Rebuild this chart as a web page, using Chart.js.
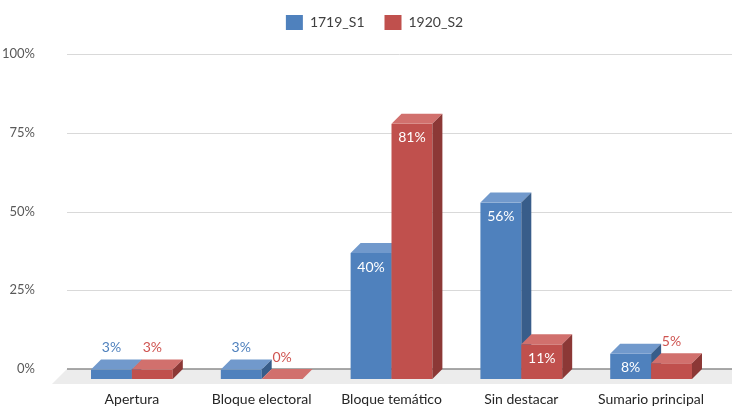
<!DOCTYPE html>
<html>
<head>
<meta charset="utf-8">
<script src="https://cdn.jsdelivr.net/npm/chart.js@4/dist/chart.umd.min.js"></script>
<style>
  html, body { margin: 0; padding: 0; background: #fff; }
</style>
</head>
<body>
<canvas id="chart" width="732" height="406"></canvas>
<script>
// data
const categories = ['Apertura', 'Bloque electoral', 'Bloque temático', 'Sin destacar', 'Sumario principal'];
const seriesNames = ['1719_S1', '1920_S2'];
const s1Values = [3, 3, 40, 56, 8];
const s2Values = [3, 0, 81, 11, 5];
const yTickValues = [0, 25, 50, 75, 100];

const FONT = 'Lato, "Open Sans", sans-serif';
const DX = 10, DY = 10;   // depth offset of the bars
const FLOOR = 15;         // depth of the floor

const palettes = [
  { front: '#4f81bd', top: '#7199cc', side: '#385d8a', label: '#4f81bd' },
  { front: '#c0504d', top: '#d1706d', side: '#8c3836', label: '#cf5451' }
];

// push the plot down below the legend, and nudge the legend right
const legendGap = {
  id: 'legendGap',
  beforeInit(chart) {
    const legend = chart.legend;
    const fit = legend.fit;
    legend.fit = function () {
      fit.call(this);
      this.height = 59;
    };
    const draw = legend.draw;
    legend.draw = function () {
      this.ctx.save();
      this.ctx.translate(16.5, 0);
      draw.call(this);
      this.ctx.restore();
    };
  }
};

const bars3d = {
  id: 'bars3d',
  beforeDatasetsDraw(chart) {
    const ctx = chart.ctx;
    const area = chart.chartArea;
    const y = chart.scales.y;
    const zero = y.getPixelForValue(0);
    ctx.save();
    // gridlines on the back wall, running to the right edge
    ctx.strokeStyle = '#d9d9d9';
    ctx.lineWidth = 1;
    y.ticks.forEach(t => {
      if (t.value === 0) return;
      const py = Math.round(y.getPixelForValue(t.value)) + 0.5;
      ctx.beginPath();
      ctx.moveTo(area.left, py);
      ctx.lineTo(chart.width, py);
      ctx.stroke();
    });
    // floor
    ctx.fillStyle = '#ececec';
    ctx.beginPath();
    ctx.moveTo(area.left, zero);
    ctx.lineTo(chart.width + 20, zero);
    ctx.lineTo(chart.width + 20 - FLOOR, zero + FLOOR);
    ctx.lineTo(area.left - FLOOR, zero + FLOOR);
    ctx.closePath();
    ctx.fill();
    ctx.strokeStyle = '#8c8c8c';
    ctx.lineWidth = 1.5;
    ctx.beginPath();
    ctx.moveTo(area.left, zero);
    ctx.lineTo(chart.width, zero);
    ctx.stroke();

    const metas = chart.data.datasets.map((d, i) => chart.getDatasetMeta(i));
    categories.forEach((c, i) => {
      metas.forEach((meta, d) => {
        const el = meta.data[i];
        const p = palettes[d];
        const w = el.width;
        const l = el.x - w / 2, r = el.x + w / 2;
        const top = el.y, base = el.base;
        ctx.fillStyle = p.front;
        ctx.fillRect(l, top + DY, w, base - top);
        ctx.fillStyle = p.top;
        ctx.beginPath();
        ctx.moveTo(l, top + DY);
        ctx.lineTo(l + DX, top);
        ctx.lineTo(r + DX, top);
        ctx.lineTo(r, top + DY);
        ctx.closePath();
        ctx.fill();
        ctx.fillStyle = p.side;
        ctx.beginPath();
        ctx.moveTo(r, top + DY);
        ctx.lineTo(r + DX, top);
        ctx.lineTo(r + DX, base);
        ctx.lineTo(r, base + DY);
        ctx.closePath();
        ctx.fill();
      });
    });
    ctx.restore();
    return false;
  },
  afterDraw(chart) {
    const ctx = chart.ctx;
    ctx.save();
    ctx.font = '14px ' + FONT;
    ctx.textAlign = 'center';
    ctx.textBaseline = 'middle';
    chart.data.datasets.forEach((ds, d) => {
      chart.getDatasetMeta(d).data.forEach((el, i) => {
        const txt = ds.data[i] + '%';
        const h = el.base - el.y;
        if (h > 20) {
          ctx.fillStyle = '#ffffff';
          ctx.fillText(txt, el.x, el.y + DY + 14);
        } else {
          ctx.fillStyle = palettes[d].label;
          ctx.fillText(txt, el.x, el.y - 12);
        }
      });
    });
    ctx.restore();
  }
};

new Chart(document.getElementById('chart').getContext('2d'), {
  type: 'bar',
  data: {
    labels: categories,
    datasets: [
      { label: seriesNames[0], data: s1Values, backgroundColor: palettes[0].front },
      { label: seriesNames[1], data: s2Values, backgroundColor: palettes[1].front }
    ]
  },
  options: {
    responsive: false,
    animation: false,
    devicePixelRatio: 1,
    categoryPercentage: 0.63,
    barPercentage: 1,
    layout: { padding: { top: -5, right: 16, bottom: 0, left: 0 } },
    plugins: {
      legend: {
        position: 'top',
        labels: {
          boxWidth: 17,
          boxHeight: 15,
          padding: 20,
          color: '#404040',
          font: { family: FONT, size: 14 }
        }
      },
      tooltip: { enabled: false }
    },
    scales: {
      x: {
        grid: { display: false },
        border: { display: false },
        ticks: { color: '#262626', padding: 14, font: { family: FONT, size: 14 } },
        afterFit(scale) { scale.height = 37; }
      },
      y: {
        min: 0,
        max: 100,
        afterBuildTicks(scale) { scale.ticks = yTickValues.map(v => ({ value: v })); },
        grid: { display: false },
        border: { display: false },
        ticks: {
          color: '#595959',
          padding: 24,
          font: { family: FONT, size: 13 },
          callback: v => v + '%'
        },
        afterFit(scale) { scale.width = 67; }
      }
    }
  },
  plugins: [legendGap, bars3d]
});
</script>
</body>
</html>
